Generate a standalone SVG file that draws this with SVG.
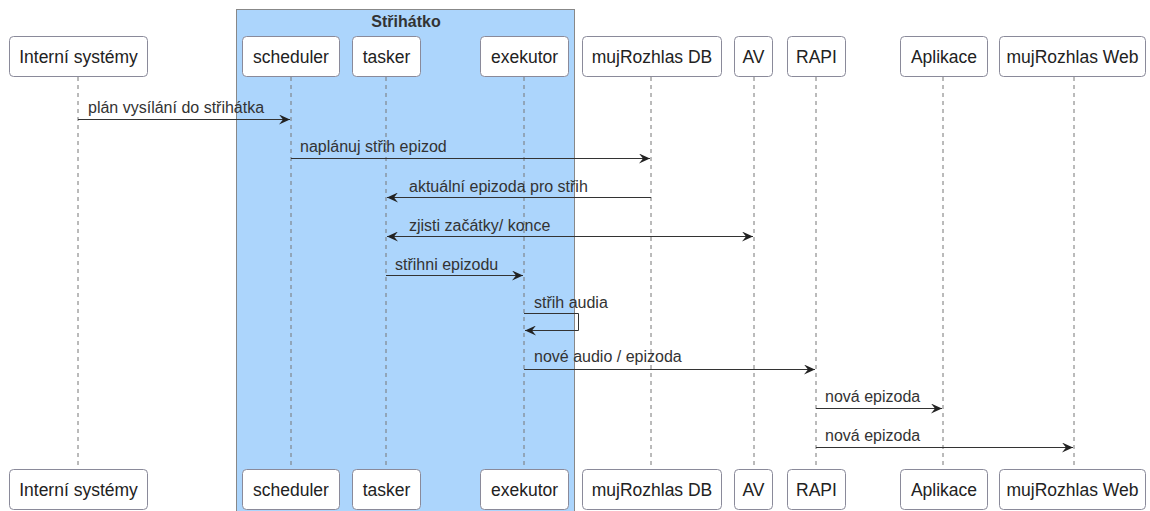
<svg xmlns="http://www.w3.org/2000/svg" width="1150" height="511" viewBox="0 0 1150 511">
<style>
.box{fill:#fff;stroke:#8a8a9a;stroke-width:1}
.nl{font-family:"Liberation Sans",Arial,sans-serif;font-size:17.5px;fill:#222;text-anchor:middle}
.life{stroke:#777;stroke-width:1;stroke-dasharray:4,4;fill:none}
.msg{stroke:#333;stroke-width:1;fill:none}
.ml{font-family:"Liberation Sans",Arial,sans-serif;font-size:16px;fill:#333}
</style>
<defs>
<marker id="ah" markerWidth="12" markerHeight="10" refX="11" refY="5" orient="auto" markerUnits="userSpaceOnUse">
<path d="M0,0 L11,5 L0,10 L4,5 Z" fill="#222"/>
</marker>
<marker id="ahs" markerWidth="12" markerHeight="10" refX="11" refY="5" orient="auto-start-reverse" markerUnits="userSpaceOnUse">
<path d="M0,0 L11,5 L0,10 L4,5 Z" fill="#222"/>
</marker>
</defs>
<rect width="1150" height="511" fill="#fff"/>
<g id="group-strihatko">
<rect x="236.5" y="9.5" width="338" height="503" fill="#acd5fc" stroke="#888" stroke-width="1"/>
<text x="406" y="27" font-family="'Liberation Sans',Arial,sans-serif" font-size="16" font-weight="bold" fill="#333" text-anchor="middle">Střihátko</text>
</g>
<g id="lifelines">
<line class="life" x1="78" y1="77" x2="78" y2="469"/>
<line class="life" x1="291" y1="77" x2="291" y2="469"/>
<line class="life" x1="386" y1="77" x2="386" y2="469"/>
<line class="life" x1="524" y1="77" x2="524" y2="469"/>
<line class="life" x1="651" y1="77" x2="651" y2="469"/>
<line class="life" x1="754" y1="77" x2="754" y2="469"/>
<line class="life" x1="816" y1="77" x2="816" y2="469"/>
<line class="life" x1="943" y1="77" x2="943" y2="469"/>
<line class="life" x1="1074" y1="77" x2="1074" y2="469"/>
</g>
<g id="node-interni">
<rect class="box" x="9.5" y="36.5" width="138" height="40" rx="4"/><text class="nl" x="78.5" y="63">Interní systémy</text>
<rect class="box" x="9.5" y="469.5" width="138" height="40" rx="4"/><text class="nl" x="78.5" y="496">Interní systémy</text>
</g>
<g id="node-scheduler">
<rect class="box" x="242.5" y="36.5" width="97" height="40" rx="4"/><text class="nl" x="291" y="63">scheduler</text>
<rect class="box" x="242.5" y="469.5" width="97" height="40" rx="4"/><text class="nl" x="291" y="496">scheduler</text>
</g>
<g id="node-tasker">
<rect class="box" x="352.5" y="36.5" width="68" height="40" rx="4"/><text class="nl" x="386.5" y="63">tasker</text>
<rect class="box" x="352.5" y="469.5" width="68" height="40" rx="4"/><text class="nl" x="386.5" y="496">tasker</text>
</g>
<g id="node-exekutor">
<rect class="box" x="480.5" y="36.5" width="88" height="40" rx="4"/><text class="nl" x="524.5" y="63">exekutor</text>
<rect class="box" x="480.5" y="469.5" width="88" height="40" rx="4"/><text class="nl" x="524.5" y="496">exekutor</text>
</g>
<g id="node-mujrozhlas-db">
<rect class="box" x="582.5" y="36.5" width="139" height="40" rx="4"/><text class="nl" x="652" y="63">mujRozhlas DB</text>
<rect class="box" x="582.5" y="469.5" width="139" height="40" rx="4"/><text class="nl" x="652" y="496">mujRozhlas DB</text>
</g>
<g id="node-av">
<rect class="box" x="734.5" y="36.5" width="38" height="40" rx="4"/><text class="nl" x="753.5" y="63">AV</text>
<rect class="box" x="734.5" y="469.5" width="38" height="40" rx="4"/><text class="nl" x="753.5" y="496">AV</text>
</g>
<g id="node-rapi">
<rect class="box" x="787.5" y="36.5" width="58" height="40" rx="4"/><text class="nl" x="816.5" y="63">RAPI</text>
<rect class="box" x="787.5" y="469.5" width="58" height="40" rx="4"/><text class="nl" x="816.5" y="496">RAPI</text>
</g>
<g id="node-aplikace">
<rect class="box" x="900.5" y="36.5" width="87" height="40" rx="4"/><text class="nl" x="944" y="63">Aplikace</text>
<rect class="box" x="900.5" y="469.5" width="87" height="40" rx="4"/><text class="nl" x="944" y="496">Aplikace</text>
</g>
<g id="node-mujrozhlas-web">
<rect class="box" x="999.5" y="36.5" width="146" height="40" rx="4"/><text class="nl" x="1072.5" y="63">mujRozhlas Web</text>
<rect class="box" x="999.5" y="469.5" width="146" height="40" rx="4"/><text class="nl" x="1072.5" y="496">mujRozhlas Web</text>
</g>
<g id="connectors">
<line class="msg" x1="78" y1="119.5" x2="290" y2="119.5" marker-end="url(#ah)"/>
<text class="ml" x="88" y="113">plán vysílání do střihátka</text>
<line class="msg" x1="291" y1="158.5" x2="650" y2="158.5" marker-end="url(#ah)"/>
<text class="ml" x="300" y="152">naplánuj střih epizod</text>
<line class="msg" x1="651" y1="197.5" x2="387" y2="197.5" marker-end="url(#ah)"/>
<text class="ml" x="409" y="192">aktuální epizoda pro střih</text>
<line class="msg" x1="387" y1="236.5" x2="753" y2="236.5" marker-start="url(#ahs)" marker-end="url(#ah)"/>
<text class="ml" x="409" y="231">zjisti začátky/ konce</text>
<line class="msg" x1="386" y1="275.5" x2="523" y2="275.5" marker-end="url(#ah)"/>
<text class="ml" x="395" y="270">střihni epizodu</text>
<polyline class="msg" points="524,313.5 578.5,313.5 578.5,330.5 525,330.5" marker-end="url(#ah)"/>
<text class="ml" x="534" y="308">střih audia</text>
<line class="msg" x1="524" y1="369.5" x2="815" y2="369.5" marker-end="url(#ah)"/>
<text class="ml" x="534" y="362">nové audio / epizoda</text>
<line class="msg" x1="816" y1="408.5" x2="942" y2="408.5" marker-end="url(#ah)"/>
<text class="ml" x="825" y="402">nová epizoda</text>
<line class="msg" x1="816" y1="447.5" x2="1073" y2="447.5" marker-end="url(#ah)"/>
<text class="ml" x="825" y="441">nová epizoda</text>
</g>
</svg>
